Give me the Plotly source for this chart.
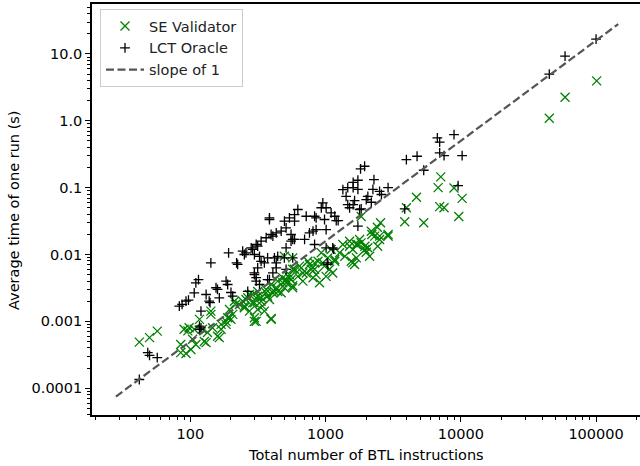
import plotly.graph_objects as go

# ---- data ----
se_x = [42, 50, 57, 85, 85, 93, 90, 96, 98, 101, 104, 110, 107, 117, 123, 127, 131, 134, 142, 142,
        146, 159, 164, 169, 169, 184, 184, 189, 195, 200, 206, 212, 195, 216, 231, 244, 251, 251, 258, 266,
        274, 274, 289, 289, 298, 298, 298, 307, 315, 315, 315, 334, 334, 342, 353, 364, 364, 373, 385, 396,
        396, 396, 408, 419, 432, 443, 443, 470, 483, 483, 497, 496, 511, 511, 541, 541, 556, 572, 572, 572,
        572, 590, 624, 642, 661, 680, 680, 720, 740, 761, 785, 808, 830, 830, 852, 880, 903, 930, 955, 983,
        1010, 1040, 1071, 1100, 1130, 1170, 1170, 1270, 1343, 1390, 1506, 1506, 1550, 1590, 1590, 1640, 1690, 1690, 1735, 1785,
        1830, 1835, 1955, 1955, 2000, 2055, 2118, 2180, 2200, 2310, 2415, 2430, 2512, 2510, 2550, 2900, 2900, 3850, 3960, 4700,
        5320, 6800, 6980, 7110, 7520, 8910, 9660, 10230, 45100, 59000, 101000]
se_y = [0.000489, 0.00057, 0.000714, 0.00045, 0.00034, 0.00033, 0.00076, 0.00072, 0.0008, 0.00038, 0.00054, 0.00045, 0.00076, 0.00107, 0.00076, 0.0005, 0.00048, 0.00068, 0.00142, 0.00127,
        0.0008, 0.0006, 0.00057, 0.00076, 0.0009, 0.001, 0.0009, 0.00113, 0.00113, 0.00107, 0.00127, 0.002, 0.0015, 0.00179, 0.00179, 0.002, 0.00169, 0.0016, 0.00212, 0.00225,
        0.00252, 0.00142, 0.0019, 0.00252, 0.00113, 0.001, 0.0019, 0.001, 0.00238, 0.0028, 0.0015, 0.002, 0.00225, 0.00169, 0.00142, 0.00267, 0.003, 0.00238, 0.00212, 0.00107,
        0.0011, 0.00356, 0.00267, 0.0028, 0.00318, 0.004, 0.0028, 0.00267, 0.00377, 0.0045, 0.00318, 0.0094, 0.0042, 0.00377, 0.0045, 0.005, 0.0042, 0.00318, 0.006, 0.0034,
        0.0089, 0.006, 0.0047, 0.0067, 0.0063, 0.0053, 0.004, 0.0053, 0.0079, 0.0071, 0.006, 0.0045, 0.0075, 0.006, 0.005, 0.0079, 0.00377, 0.0106, 0.0075, 0.0067,
        0.0047, 0.0089, 0.006, 0.0119, 0.0053, 0.0079, 0.0084, 0.0106, 0.0141, 0.0094, 0.0133, 0.0158, 0.0079, 0.0119, 0.0075, 0.0071, 0.0141, 0.0089, 0.0141, 0.0168,
        0.0149, 0.037, 0.0133, 0.0119, 0.0108, 0.0126, 0.0094, 0.0223, 0.0199, 0.0188, 0.0256, 0.0133, 0.0188, 0.0168, 0.0298, 0.0199, 0.0188, 0.0308, 0.050, 0.072,
        0.0298, 0.10, 0.052, 0.145, 0.050, 0.099, 0.037, 0.069, 1.09, 2.25, 3.95]

lct_x = [42, 48.5, 50, 57, 83, 87, 93, 97, 107, 110, 115, 120, 131, 138, 140, 117, 117, 120, 142, 155,
         159, 164, 184, 189, 192, 200, 206, 220, 224, 244, 251, 258, 266, 282, 289, 298, 298, 298, 307, 307,
         307, 315, 315, 325, 325, 334, 334, 353, 364, 373, 373, 396, 385, 385, 385, 408, 408, 419, 432, 432,
         432, 443, 470, 497, 496, 511, 511, 511, 541, 556, 556, 572, 572, 590, 590, 590, 624, 700, 720, 761,
         808, 830, 830, 852, 852, 930, 955, 983, 1010, 1010, 1010, 1030, 1040, 1100, 1130, 1150, 1170, 1200, 1240, 1343,
         1420, 1460, 1460, 1506, 1600, 1600, 1600, 1640, 1735, 1735, 1735, 1786, 1815, 1835, 1945, 2000, 2055, 2180, 2240, 2280,
         2510, 2590, 2900, 3850, 3960, 4750, 5320, 6710, 6980, 6980, 7520, 8910, 9550, 10230, 45100, 59000, 100000]
lct_y = [0.000135, 0.00034, 0.00031, 0.000286, 0.00169, 0.00179, 0.002, 0.00207, 0.00267, 0.00377, 0.0042, 0.00142, 0.00252, 0.002, 0.0019, 0.00085, 0.00076, 0.0008, 0.0075, 0.00318,
         0.003, 0.00225, 0.0040, 0.00356, 0.0106, 0.0027, 0.00238, 0.0075, 0.0071, 0.0112, 0.01, 0.0106, 0.0028, 0.0126, 0.0119, 0.01, 0.0053, 0.005, 0.0045, 0.0141,
         0.004, 0.0133, 0.0063, 0.00356, 0.0094, 0.0079, 0.0158, 0.0075, 0.0178, 0.0089, 0.0042, 0.0199, 0.0042, 0.0334, 0.0353, 0.0188, 0.0053, 0.0089, 0.021, 0.0075,
         0.0063, 0.0094, 0.0223, 0.0315, 0.0089, 0.025, 0.006, 0.0126, 0.0353, 0.0199, 0.0158, 0.0168, 0.0089, 0.0315, 0.0396, 0.0168, 0.0471, 0.0168, 0.0373, 0.021,
         0.0223, 0.0141, 0.0373, 0.0236, 0.0354, 0.05, 0.059, 0.0334, 0.05, 0.0236, 0.0126, 0.0075, 0.0071, 0.042, 0.0126, 0.012, 0.0373, 0.0322, 0.0322, 0.0937,
         0.074, 0.1, 0.0558, 0.05, 0.1, 0.12, 0.0558, 0.064, 0.129, 0.094, 0.0265, 0.0471, 0.191, 0.048, 0.209, 0.066, 0.074, 0.0605, 0.094, 0.132,
         0.088, 0.079, 0.10, 0.048, 0.263, 0.295, 0.182, 0.555, 0.478, 0.331, 0.302, 0.622, 0.107, 0.302, 4.98, 9.3, 16.6]

slope_x = [28.2, 146000]
slope_y = [7.5e-5, 28.0]

x_tickvals = [100, 1000, 10000, 100000]
x_ticktext = ["100", "1000", "10000", "100000"]
y_tickvals = [10, 1, 0.1, 0.01, 0.001, 0.0001]
y_ticktext = ["10.0", "1.0", "0.1", "0.01", "0.001", "0.0001"]

x_title = "Total number of BTL instructions"
y_title = "Average time of one run (s)"

FONT = "DejaVu Sans"
FS = 14.5
W, H = 648, 466
ML, MB, MT = 92, 51, 4
PW, PH = W - ML, H - MT - MB

fig = go.Figure()
fig.add_trace(go.Scatter(x=se_x, y=se_y, mode="markers", name="SE Validator",
                         marker=dict(symbol="x-thin", size=9, color="green",
                                     line=dict(color="green", width=1.3))))
fig.add_trace(go.Scatter(x=lct_x, y=lct_y, mode="markers", name="LCT Oracle",
                         marker=dict(symbol="cross-thin", size=7, color="black",
                                     line=dict(color="black", width=1.3))))
fig.add_trace(go.Scatter(x=slope_x, y=slope_y, mode="lines", name="slope of 1",
                         line=dict(color="#555555", width=2.2, dash="8px,3.5px")))

axis_common = dict(type="log", showgrid=False, zeroline=False, showline=True,
                   linecolor="black", linewidth=1.6, ticks="outside", ticklen=5,
                   tickwidth=1.2, tickcolor="black", automargin=False,
                   tickfont=dict(family=FONT, size=FS, color="black"),
                   minor=dict(ticks="outside", ticklen=3, tickwidth=1, tickcolor="black",
                              dtick="D1", showgrid=False))

fig.update_xaxes(**axis_common, range=[1.2735, 5.384], mirror=True,
                 tickmode="array", tickvals=x_tickvals, ticktext=x_ticktext)
fig.update_yaxes(**axis_common, range=[-4.401, 1.747],
                 tickmode="array", tickvals=y_tickvals, ticktext=y_ticktext)

fig.add_annotation(text=x_title, xref="paper", yref="paper",
                   x=(366 - ML) / PW, y=-(455 - (H - MB)) / PH,
                   xanchor="center", yanchor="middle", showarrow=False,
                   font=dict(family=FONT, size=FS, color="black"))
fig.add_annotation(text=y_title, xref="paper", yref="paper", textangle=-90,
                   x=(14 - ML) / PW, y=((H - MB) - 210) / PH,
                   xanchor="center", yanchor="middle", showarrow=False,
                   font=dict(family=FONT, size=FS, color="black"))

fig.update_layout(
    width=W, height=H,
    margin=dict(l=ML, r=0, t=MT, b=MB, autoexpand=False),
    plot_bgcolor="white", paper_bgcolor="white",
    font=dict(family=FONT, size=FS, color="black"),
    legend=dict(x=(100 - ML) / PW, y=((H - MB) - 9) / PH, xanchor="left", yanchor="top",
                bgcolor="white", bordercolor="#cccccc", borderwidth=1,
                font=dict(family=FONT, size=FS, color="#222222"),
                tracegroupgap=0, itemwidth=38),
    showlegend=True,
)

fig.write_html("out.html", config={"displayModeBar": False},
               post_script="document.body.style.margin='0';document.body.style.overflow='hidden';")
